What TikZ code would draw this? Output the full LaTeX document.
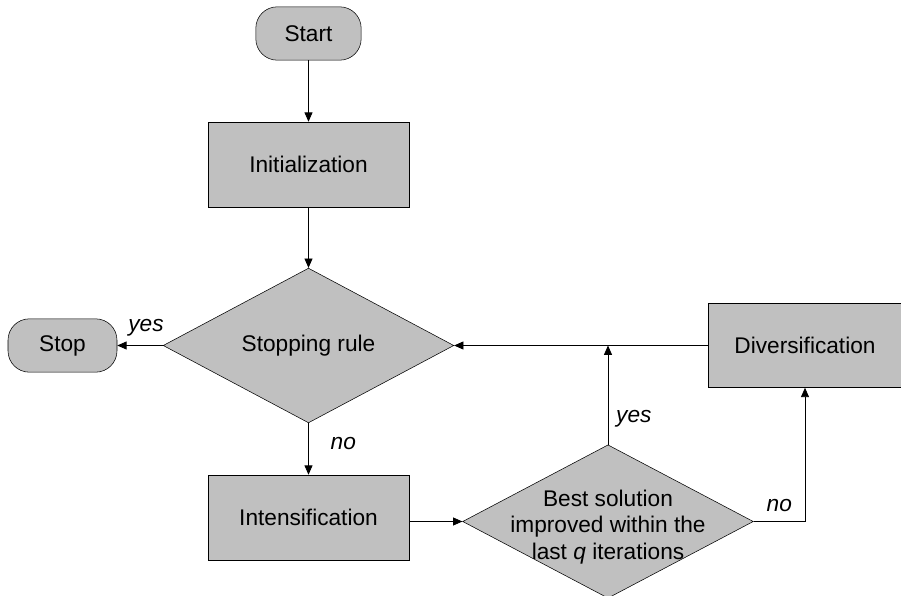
\documentclass[tikz,border=0pt]{standalone}
\usepackage{fontspec}
\setmainfont{Liberation Sans}
\usetikzlibrary{arrows.meta,shapes.geometric}
\definecolor{boxgray}{HTML}{C0C0C0}

\begin{document}
\begin{tikzpicture}[
    x=0.75pt, y=-0.75pt,
    every node/.style={font=\fontsize{17}{20}\selectfont},
    term/.style={draw, fill=boxgray, rounded corners=16pt, minimum width=79pt, minimum height=40pt, inner sep=0pt},
    proc/.style={draw, fill=boxgray, minimum width=150.75pt, minimum height=63.75pt, inner sep=0pt},
    decision/.style={draw, diamond, fill=boxgray, minimum width=218pt, minimum height=115pt, inner sep=0pt},
    arrow/.style={-{Triangle[length=7pt, width=6pt]}, line width=0.6pt},
    lbl/.style={font=\fontsize{17}{20}\selectfont\itshape}
]
\useasboundingbox (0,0) rectangle (901,596);

\node[term] (start) at (308.5, 33.5) {Start};
\node[proc] (init) at (308.5, 164.5) {Initialization};
\node[decision] (stoprule) at (308.5, 345.5) {Stopping rule};
\node[term, minimum width=81.75pt] (stop) at (62.5, 345.5) {Stop};
\node[proc, minimum width=144.75pt, minimum height=63pt] (divers) at (805, 345.5) {Diversification};
\node[proc] (intens) at (308.5, 517.5) {Intensification};
\node[decision] (best) at (608, 521.5) {};
\node[align=center, inner sep=0pt, yshift=-4pt] (besttext) at (best.center) {Best solution\\improved within the\\last \textit{q} iterations};

\draw[arrow] (start.south) -- (init.north);
\draw[arrow] (init.south) -- (stoprule.north);

\draw[arrow] (stoprule.west) -- node[lbl, above=3pt, pos=0.37] {yes} (stop.east);
\draw[arrow] (stoprule.south) -- node[lbl, right=13pt, pos=0.4] {no} (intens.north);

\draw[arrow] (intens.east |- best.west) -- (best.west);
\draw[arrow] (best.north) -- node[lbl, right=2.5pt, pos=0.26] {yes} (best.north |- stoprule.east);
\draw[arrow] (best.east) -| node[lbl, above=4pt, pos=0.25] {no} (divers.south);

\draw[arrow] (divers.west) -- (stoprule.east);
\end{tikzpicture}
\end{document}
